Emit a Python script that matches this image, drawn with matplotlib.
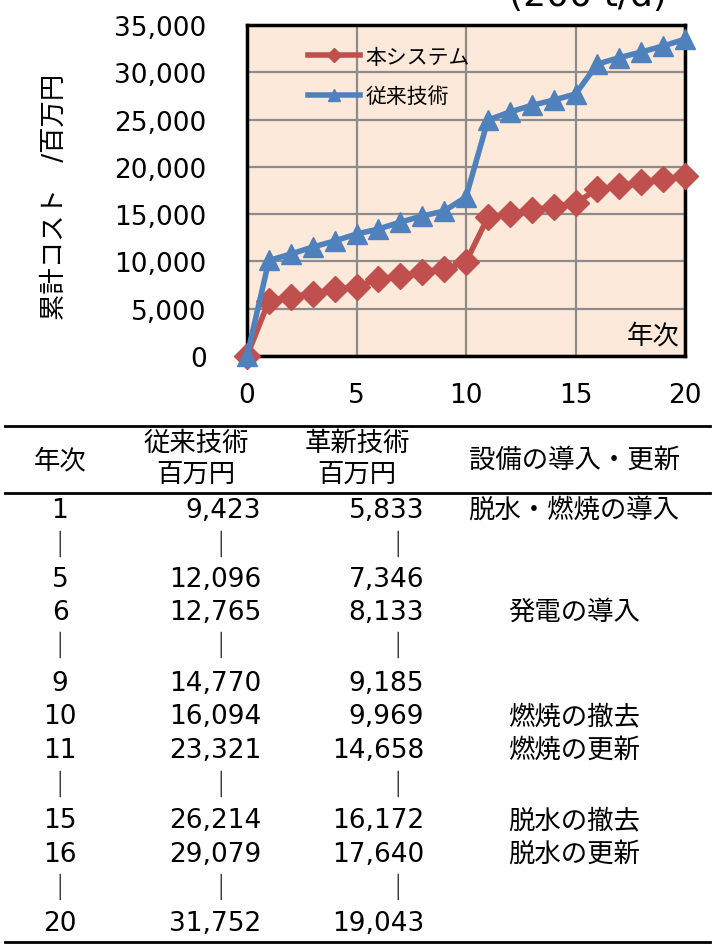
import matplotlib.pyplot as plt
from matplotlib.lines import Line2D
from matplotlib.ticker import FuncFormatter

plt.rcParams['font.family'] = ['DejaVu Sans', 'Noto Sans CJK JP']

# chart data
years = list(range(0, 21))
conventional = [0, 10100, 10780, 11520, 12160, 12900, 13420, 14160, 14800, 15330, 16810,
                24950, 25800, 26500, 27060, 27700, 30870, 31550, 32140, 32780, 33500]
new_system = [0, 5833, 6240, 6600, 7080, 7346, 8133, 8460, 8880, 9185, 9969,
              14658, 15000, 15400, 15800, 16172, 17640, 17970, 18390, 18710, 19043]

# table data
table_year = ["1", "｜", "5", "6", "｜", "9", "10", "11", "｜", "15", "16", "｜", "20"]
table_conv = ["9,423", "｜", "12,096", "12,765", "｜", "14,770", "16,094", "23,321", "｜",
              "26,214", "29,079", "｜", "31,752"]
table_new = ["5,833", "｜", "7,346", "8,133", "｜", "9,185", "9,969", "14,658", "｜",
             "16,172", "17,640", "｜", "19,043"]
table_note = ["脱水・燃焼の導入", "", "", "発電の導入", "", "", "燃焼の撤去", "燃焼の更新", "",
              "脱水の撤去", "脱水の更新", "", ""]
row_px = [511, 547, 580, 613, 648, 684, 717, 751, 787, 821, 855, 890, 924]

W, H = 715, 945
fig = plt.figure(figsize=(7.15, 9.45), dpi=100)


def fx(px):
    return px / W


def fy(py):
    return 1 - py / H


ax = fig.add_axes([fx(247), fy(357), fx(685) - fx(247), fy(26) - fy(357)])
ax.set_facecolor('#FDE9D9')
ax.plot(years, new_system, color='#C0504D', lw=4, marker='D', ms=13, label='本システム',
        clip_on=False, zorder=3)
ax.plot(years, conventional, color='#4F81BD', lw=4, marker='^', ms=15, label='従来技術',
        clip_on=False, zorder=4)
ax.set_xlim(0, 20)
ax.set_ylim(0, 35000)
ax.set_xticks([0, 5, 10, 15, 20])
ax.set_yticks(range(0, 35001, 5000))
ax.yaxis.set_major_formatter(FuncFormatter(lambda v, p: f'{int(v):,}'))
ax.grid(True, color='#8C8C8C', lw=1.6)
ax.set_axisbelow(True)
ax.tick_params(axis='both', length=0, labelsize=19)
ax.tick_params(axis='y', pad=29)
ax.tick_params(axis='x', pad=19)
for s in ax.spines.values():
    s.set_linewidth(2.5)
    s.set_color('black')

ax.text(0.988, 0.063, '年次', transform=ax.transAxes, ha='right', va='center', fontsize=19)
ax.legend(loc='upper left', bbox_to_anchor=(0.139, 0.935), frameon=False, fontsize=15,
          handlelength=2.5, handletextpad=0.25, labelspacing=0.95, borderpad=0,
          borderaxespad=0, markerscale=0.55)

fig.text(fx(55), fy(197), '累計コスト　/百万円', rotation=90, ha='center', va='center',
         fontsize=19)
fig.text(fx(509), fy(6), '(200 t/d)', ha='left', va='baseline', fontsize=26)

# table rules
for py in [427, 494, 943]:
    fig.add_artist(Line2D([fx(5), fx(710)], [fy(py), fy(py)], color='black', lw=2,
                          transform=fig.transFigure))

fig.text(fx(60), fy(461), '年次', ha='center', va='center', fontsize=19)
fig.text(fx(196), fy(444), '従来技術', ha='center', va='center', fontsize=19)
fig.text(fx(196), fy(476), '百万円', ha='center', va='center', fontsize=19)
fig.text(fx(357), fy(444), '革新技術', ha='center', va='center', fontsize=19)
fig.text(fx(357), fy(476), '百万円', ha='center', va='center', fontsize=19)
fig.text(fx(575), fy(461), '設備の導入・更新', ha='center', va='center', fontsize=19)

for i, py in enumerate(row_px):
    fig.text(fx(60), fy(py), table_year[i], ha='center', va='center', fontsize=19)
    if table_conv[i] == '｜':
        fig.text(fx(221), fy(py), table_conv[i], ha='center', va='center', fontsize=19)
    else:
        fig.text(fx(261), fy(py), table_conv[i], ha='right', va='center', fontsize=19)
    if table_new[i] == '｜':
        fig.text(fx(398), fy(py), table_new[i], ha='center', va='center', fontsize=19)
    else:
        fig.text(fx(424), fy(py), table_new[i], ha='right', va='center', fontsize=19)
    if table_note[i]:
        fig.text(fx(574), fy(py), table_note[i], ha='center', va='center', fontsize=19)

fig.savefig('out.png', dpi=100)
